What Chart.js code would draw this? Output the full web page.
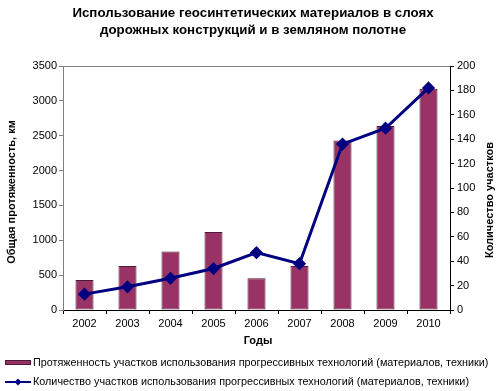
<!DOCTYPE html>
<html>
<head>
<meta charset="utf-8">
<script src="https://cdn.jsdelivr.net/npm/chart.js@4"></script>
<style>
  html, body { margin: 0; padding: 0; background: #fff; }
  #wrap { width: 500px; height: 391px; }
</style>
</head>
<body>
<div id="wrap"><canvas id="geoChart" width="500" height="391"></canvas></div>
<script>
// данные с графика
const years = ['2002', '2003', '2004', '2005', '2006', '2007', '2008', '2009', '2010'];
const lengthKm = [430, 630, 840, 1120, 455, 630, 2430, 2640, 3175];
const sitesCount = [13, 19, 26, 34, 47, 38, 136, 149, 182];
const leftTicks = [0, 500, 1000, 1500, 2000, 2500, 3000, 3500];
const rightTicks = [0, 20, 40, 60, 80, 100, 120, 140, 160, 180, 200];

const titleLines = ['Использование геосинтетических материалов в слоях', 'дорожных конструкций и в земляном полотне'];
const barLabel = 'Протяженность участков использования прогрессивных технологий (материалов, техники)';
const lineLabel = 'Количество участков использования прогрессивных технологий (материалов, техники)';

const FONT = '"Liberation Sans", Arial, sans-serif';

const textPlugin = {
  id: 'texts',
  afterDraw(chart) {
    const ctx = chart.ctx;
    const area = chart.chartArea;
    ctx.save();
    // верхняя рамка
    ctx.strokeStyle = '#808080';
    ctx.lineWidth = 1;
    ctx.beginPath();
    ctx.moveTo(area.left, area.top + 0.5);
    ctx.lineTo(area.right, area.top + 0.5);
    ctx.stroke();

    ctx.fillStyle = '#000';
    ctx.textAlign = 'center';
    ctx.textBaseline = 'middle';
    ctx.font = 'bold 13.3px ' + FONT;
    ctx.fillText(titleLines[0], 253, 13);
    ctx.fillText(titleLines[1], 253, 30);

    ctx.font = 'bold 11px ' + FONT;
    ctx.fillText('Годы', 258, 341);

    ctx.save();
    ctx.translate(12, 192);
    ctx.rotate(-Math.PI / 2);
    ctx.fillText('Общая протяженность, км', 0, 0);
    ctx.restore();

    ctx.save();
    ctx.translate(490, 200);
    ctx.rotate(-Math.PI / 2);
    ctx.fillText('Количество участков', 0, 0);
    ctx.restore();

    // легенда
    ctx.textAlign = 'left';
    ctx.font = '10.8px ' + FONT;
    ctx.fillStyle = '#993366';
    ctx.fillRect(5, 360, 26, 5);
    ctx.strokeStyle = '#4d1a33';
    ctx.strokeRect(5.5, 360.5, 25, 4);
    ctx.fillStyle = '#000';
    ctx.fillText(barLabel, 33, 363);

    ctx.strokeStyle = '#000080';
    ctx.lineWidth = 2;
    ctx.beginPath();
    ctx.moveTo(5, 382);
    ctx.lineTo(31, 382);
    ctx.stroke();
    ctx.fillStyle = '#000080';
    ctx.beginPath();
    ctx.moveTo(18, 378.5);
    ctx.lineTo(21.5, 382);
    ctx.lineTo(18, 385.5);
    ctx.lineTo(14.5, 382);
    ctx.closePath();
    ctx.fill();
    ctx.fillStyle = '#000';
    ctx.fillText(lineLabel, 33, 382);
    ctx.restore();
  }
};

new Chart(document.getElementById('geoChart'), {
  type: 'bar',
  data: {
    labels: years,
    datasets: [{
      type: 'line',
      label: lineLabel,
      data: sitesCount,
      yAxisID: 'y1',
      borderColor: '#000080',
      backgroundColor: '#000080',
      borderWidth: 3,
      pointStyle: 'rectRot',
      pointRadius: 4.5,
      tension: 0,
      order: 0
    }, {
      label: barLabel,
      data: lengthKm,
      yAxisID: 'y',
      backgroundColor: '#993366',
      borderColor: '#4d1a33',
      borderWidth: 1,
      borderSkipped: false,
      barPercentage: 0.42,
      categoryPercentage: 1,
      order: 1
    }]
  },
  options: {
    responsive: false,
    animation: false,
    layout: { padding: { top: 66, left: 0, right: 0, bottom: 0 } },
    plugins: {
      legend: { display: false },
      title: { display: false },
      tooltip: { enabled: false }
    },
    scales: {
      x: {
        grid: { display: true, drawOnChartArea: false, drawTicks: true, tickLength: 4, color: '#000', offset: true },
        border: { color: '#000', width: 1 },
        ticks: { color: '#000', font: { family: FONT, size: 11 }, padding: 3 },
        afterFit(scale) { scale.height = 81; }
      },
      y: {
        position: 'left',
        min: 0,
        max: 3500,
        afterBuildTicks(scale) { scale.ticks = leftTicks.map(v => ({ value: v })); },
        grid: { display: true, drawOnChartArea: false, drawTicks: true, tickLength: 4, color: '#808080' },
        border: { color: '#808080', width: 1 },
        ticks: { color: '#000', font: { family: FONT, size: 11 }, padding: 2, callback: v => String(v) },
        afterFit(scale) { scale.width = 63; }
      },
      y1: {
        position: 'right',
        min: 0,
        max: 200,
        afterBuildTicks(scale) { scale.ticks = rightTicks.map(v => ({ value: v })); },
        grid: { display: true, drawOnChartArea: false, drawTicks: true, tickLength: 4, color: '#000' },
        border: { color: '#000', width: 1 },
        ticks: { color: '#000', font: { family: FONT, size: 11 }, padding: 3, callback: v => String(v) },
        afterFit(scale) { scale.width = 50; }
      }
    }
  },
  plugins: [textPlugin]
});
</script>
</body>
</html>
